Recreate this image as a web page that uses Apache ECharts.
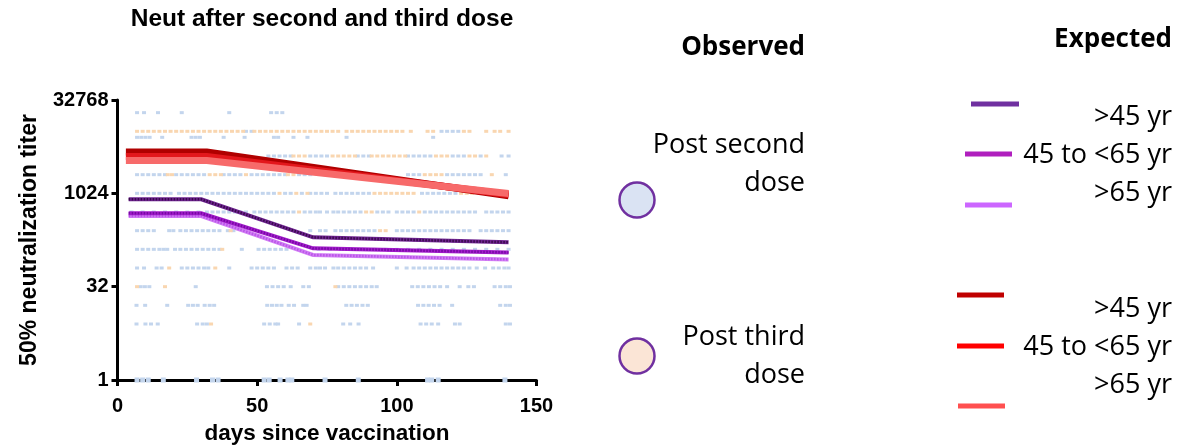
<!DOCTYPE html>
<html>
<head>
<meta charset="utf-8">
<script src="https://cdn.jsdelivr.net/npm/echarts@6/dist/echarts.min.js"></script>
<style>
  html, body { margin: 0; padding: 0; background: #fff; }
  #chart { width: 1177px; height: 448px; }
</style>
</head>
<body>
<div id="chart"></div>
<script>
// ---------------- DATA ----------------
const xTicks = [0, 50, 100, 150];
const yTicks = [1, 32, 1024, 32768];

// titer level of each observed row (log2 axis)
const titerRows = [20480, 10240, 8192, 4096, 2048, 1024, 512, 256, 128, 64, 32, 16, 8, 1];

// Observed, post second dose: days for each titer row (same order as titerRows)
const postSecondDays = [
  [7, 9.5, 14.5, 23, 40, 55, 57, 59],
  [46, 48, 116, 118, 120, 122],
  [7, 8.5, 10, 11.5, 16, 26.5, 28, 29.5, 38, 45.5, 56, 57.5, 63, 68, 82, 113],
  [6, 10, 14, 20, 26, 54, 56, 58, 60, 62, 69, 71, 73, 75, 86, 88, 90, 104, 106, 108, 110, 112, 120, 122, 124, 130, 137.5, 140],
  [7, 9, 11, 13, 15, 17, 21, 23, 25, 27, 29, 31, 38, 40, 42, 44, 48, 50, 52, 54, 56, 58, 60, 65, 67, 69, 74, 80, 86, 92, 104, 106, 108, 118, 120, 122, 124, 126, 128, 130, 139],
  [7, 9, 11, 13, 15, 17, 19, 22, 24, 26, 28, 30, 32, 34, 36, 38, 40, 42, 44, 46, 48, 50, 52, 54, 56, 60, 62, 66, 69, 71, 73, 75, 78, 80, 82, 84, 86, 88, 90, 109, 111, 113, 115, 117, 119, 121, 130, 134, 138],
  [5, 9, 13, 17, 21, 25, 29, 32, 34, 36, 38, 40, 42, 44, 46, 49, 51, 53, 55, 57, 59, 61, 63, 67, 69, 71, 72.5, 75, 77.3, 79, 81, 83, 85, 87, 93, 95, 97, 100, 102, 104, 106, 110, 112, 114, 116, 118, 120, 122, 124, 126, 128, 132, 134, 136, 138, 140],
  [7, 9, 11, 13, 18.5, 20, 22.5, 24.5, 26.5, 28.5, 30.5, 32.5, 34.5, 36.5, 39.5, 41.5, 46, 69, 72.5, 74.5, 78, 80, 82, 84, 86, 88, 90, 92, 100, 102, 104, 106, 108, 110, 112, 114, 116, 118, 120, 122, 124, 126, 130, 132, 134, 136, 138, 140],
  [7, 9, 11, 13, 15, 16.5, 17.8, 20.6, 22.5, 24.5, 26.5, 28.5, 30.5, 32.5, 34.5, 36.5, 44.5, 50.5, 52.5, 54.5, 56.5, 58.5, 60.5, 72, 76, 80, 84, 88, 92, 96, 100, 104, 108, 112, 116, 120, 124, 128, 132, 136, 140],
  [7, 9.5, 14, 15.8, 23, 25, 27, 29, 31, 32.5, 40, 48, 50, 52, 54, 56, 60.5, 62.5, 64.5, 69, 71, 72.5, 74.3, 77.3, 79, 81, 83, 85, 87, 89, 91.5, 100, 103.5, 106, 108, 110, 112, 114, 116, 118, 120, 122, 124, 126, 128.6, 131.6, 134.5, 136.5, 138.5, 140],
  [8.3, 9.8, 11.4, 28, 53.5, 55.5, 57.5, 59.5, 62, 66.5, 68.5, 79, 81, 83, 85, 87, 89, 91, 92.8, 105.5, 107.5, 109.5, 111.5, 113.5, 115.5, 118, 122.5, 125.6, 127.6, 135, 137, 139, 140.5],
  [6.8, 9.9, 17.8, 25.3, 27, 28.7, 31.2, 33, 34.6, 53.6, 55.3, 57, 58.7, 61.3, 63.2, 66.5, 67.7, 81.9, 83.8, 85.7, 87.7, 89.6, 107.6, 109.5, 111.4, 113.3, 115.3, 119.8, 137, 139, 140.5],
  [6.8, 10, 12, 14.4, 28.5, 30.5, 32, 52.5, 54.5, 56.5, 57.5, 65, 80.8, 83.3, 86.3, 108.5, 110.5, 112.5, 114.8, 120.8, 122.5, 139, 140.5],
  [7, 9, 11, 16.4, 28.3, 34, 36, 52.5, 54.3, 58.2, 61, 62.4, 74.3, 86.2, 111, 112.5, 114.8, 138.7]
];

// Observed, post third dose: days for each titer row
const postThirdDays = [
  [],
  [7, 9, 11, 13, 15, 17, 19, 21, 23, 25, 27, 29, 31, 33, 35, 37, 39, 41, 43, 45, 49, 51, 53, 55, 57, 59, 61, 63, 65, 67, 69, 71, 73, 75, 77, 79, 82, 84, 86, 88, 90, 92, 94, 96, 98, 100, 102, 105, 111, 113, 124, 126, 132, 135, 137, 140],
  [],
  [8, 16, 24, 63, 65, 67, 77, 79, 81, 83, 85, 91, 93, 95, 97, 99, 101, 103, 114, 116, 118, 126, 128, 132],
  [18, 19.5, 33, 35, 37, 46, 61, 63, 76, 84, 90, 110, 112, 114, 116, 134],
  [58, 64, 68, 92, 94, 96, 98, 100, 102, 104, 106, 123, 125, 127],
  [65, 89, 91, 108],
  [40.5, 94, 96],
  [37.5],
  [18.5, 35],
  [7, 17, 78],
  [],
  [33.5, 69],
  []
];

// Expected curves, post second dose
const curveDays2 = [4, 30, 70, 140];
const exp2Over45 = [820, 820, 200, 166];
const exp2From45to65 = [488, 488, 133, 114];
const exp2Over65 = [441, 441, 104, 88];

// Expected curves, post third dose
const curveDays3 = [3, 32, 140];
const exp3Over45 = [4740, 4740, 935];
const exp3From45to65 = [4020, 4020, 980];
const exp3Over65 = [3465, 3465, 1017];

// legend labels
const legendAges = ['>45 yr', '45 to <65 yr', '>65 yr'];

// ---------------- BUILD ----------------
function rowsToPoints(rows) {
  const pts = [];
  rows.forEach((row, i) => row.forEach(d => pts.push([d, titerRows[i]])));
  return pts;
}
function zipCurve(days, vals) { return days.map((d, i) => [d, vals[i]]); }

const AX_FONT = '"Liberation Sans", Arial, sans-serif';
const LEG_FONT = '"Open Sans", sans-serif';

function scatterSeries(pts, color) {
  return {
    type: 'scatter', data: pts, symbol: 'rect',
    symbolSize: v => (v[1] === 1 ? [5, 5] : [4, 3]),
    itemStyle: { color: color, opacity: 1 },
    silent: true, z: 3
  };
}
function lineSeries(data, color, width, dash, z) {
  return {
    type: 'line', data: data, showSymbol: false, symbol: 'none', silent: true, z: z,
    lineStyle: { color: color, width: width, type: dash || 'solid', cap: 'butt', join: 'miter' }
  };
}

const s2a = zipCurve(curveDays2, exp2Over45);
const s2b = zipCurve(curveDays2, exp2From45to65);
const s2c = zipCurve(curveDays2, exp2Over65);
const s3a = zipCurve(curveDays3, exp3Over45);
const s3b = zipCurve(curveDays3, exp3From45to65);
const s3c = zipCurve(curveDays3, exp3Over65);

const legendLineColors = ['#7030a0', '#b01fbe', '#cc66ff', '#c00000', '#ff0000', '#ff5050'];

const chart = echarts.init(document.getElementById('chart'), null, { renderer: 'canvas' });

function legText(txt, x, y, bold, size) {
  return {
    type: 'text', x: x, y: y, silent: true,
    style: {
      text: txt, fill: '#000', align: 'right', verticalAlign: 'middle',
      font: (bold ? 'bold ' : '') + size + 'px ' + LEG_FONT
    }
  };
}
function legLine(x1, x2, y, color) {
  return { type: 'line', silent: true, shape: { x1: x1, y1: y, x2: x2, y2: y }, style: { stroke: color, lineWidth: 5 } };
}

const graphics = [
  { type: 'text', x: 322, y: 19, silent: true,
    style: { text: 'Neut after second and third dose', fill: '#000', align: 'center', verticalAlign: 'middle',
      font: 'bold 24.5px ' + AX_FONT } },
  { type: 'text', x: 30, y: 240, rotation: Math.PI / 2, silent: true,
    style: { text: '50% neutralization titer', fill: '#000', align: 'center', verticalAlign: 'middle',
      font: 'bold 23px ' + AX_FONT } },
  { type: 'text', x: 327, y: 434, silent: true,
    style: { text: 'days since vaccination', fill: '#000', align: 'center', verticalAlign: 'middle',
      font: 'bold 22.5px ' + AX_FONT } },
  legText('Observed', 805, 48, true, 26),
  legText('Expected', 1172, 40, true, 26),
  legText('Post second', 805, 145, false, 27),
  legText('dose', 805, 183, false, 27),
  legText('Post third', 805, 337, false, 27),
  legText('dose', 805, 375, false, 27),
  { type: 'circle', silent: true, shape: { cx: 637, cy: 200, r: 17.5 }, style: { fill: '#dae3f3', stroke: '#7030a0', lineWidth: 2.5 } },
  { type: 'circle', silent: true, shape: { cx: 637, cy: 356, r: 17.5 }, style: { fill: '#fbe5d6', stroke: '#7030a0', lineWidth: 2.5 } },
  legLine(971, 1019, 104, legendLineColors[0]),
  legLine(965, 1012, 154, legendLineColors[1]),
  legLine(965, 1012, 205, legendLineColors[2]),
  legLine(957, 1004, 295, legendLineColors[3]),
  legLine(957, 1004, 346, legendLineColors[4]),
  legLine(958, 1005, 406, legendLineColors[5]),
  legText(legendAges[0], 1172, 117, false, 27),
  legText(legendAges[1], 1172, 155, false, 27),
  legText(legendAges[2], 1172, 193, false, 27),
  legText(legendAges[0], 1172, 309, false, 27),
  legText(legendAges[1], 1172, 347, false, 27),
  legText(legendAges[2], 1172, 385, false, 27)
];

const option = {
  animation: false,
  backgroundColor: '#fff',
  grid: { left: 117.5, right: 640.5, top: 100, bottom: 68, containLabel: false },
  xAxis: {
    type: 'value', min: xTicks[0], max: xTicks[xTicks.length - 1], interval: 50,
    axisLine: { show: true, onZero: false, lineStyle: { color: '#000', width: 3 } },
    axisTick: { show: true, length: 6, inside: false, lineStyle: { color: '#000', width: 3 } },
    axisLabel: { color: '#000', fontFamily: AX_FONT, fontWeight: 'bold', fontSize: 20, margin: 16,
      formatter: v => (xTicks.indexOf(v) >= 0 ? String(v) : '') },
    splitLine: { show: false }
  },
  yAxis: {
    type: 'log', logBase: 2, min: yTicks[0], max: yTicks[yTicks.length - 1], interval: 5,
    axisLine: { show: true, lineStyle: { color: '#000', width: 3 } },
    axisTick: { show: true, length: 6, inside: false, lineStyle: { color: '#000', width: 3 } },
    axisLabel: { color: '#000', fontFamily: AX_FONT, fontWeight: 'bold', fontSize: 20, margin: 9,
      formatter: v => String(Math.round(v)) },
    splitLine: { show: false }
  },
  series: [
    scatterSeries(rowsToPoints(postSecondDays), '#c3d5ed'),
    scatterSeries(rowsToPoints(postThirdDays), '#f9d6b0'),
    // second dose expected (purple, beaded texture = solid base + dotted overlay)
    lineSeries(s2c, '#d27df5', 4, 'solid', 5),
    lineSeries(s2c, '#b955e8', 2.5, [1.5, 1.5], 6),
    lineSeries(s2b, '#a31ccc', 4, 'solid', 7),
    lineSeries(s2b, '#760aa3', 2.5, [1.5, 1.5], 8),
    lineSeries(s2a, '#6e2390', 4, 'solid', 9),
    lineSeries(s2a, '#3a0a4c', 2.5, [1.5, 1.5], 10),
    // third dose expected (red thick lines)
    lineSeries(s3a, '#b00000', 7, 'solid', 11),
    lineSeries(s3b, '#e3171c', 7, 'solid', 12),
    lineSeries(s3c, '#f76a6a', 7, 'solid', 13)
  ],
  graphic: graphics
};
chart.setOption(option);
</script>
</body>
</html>
